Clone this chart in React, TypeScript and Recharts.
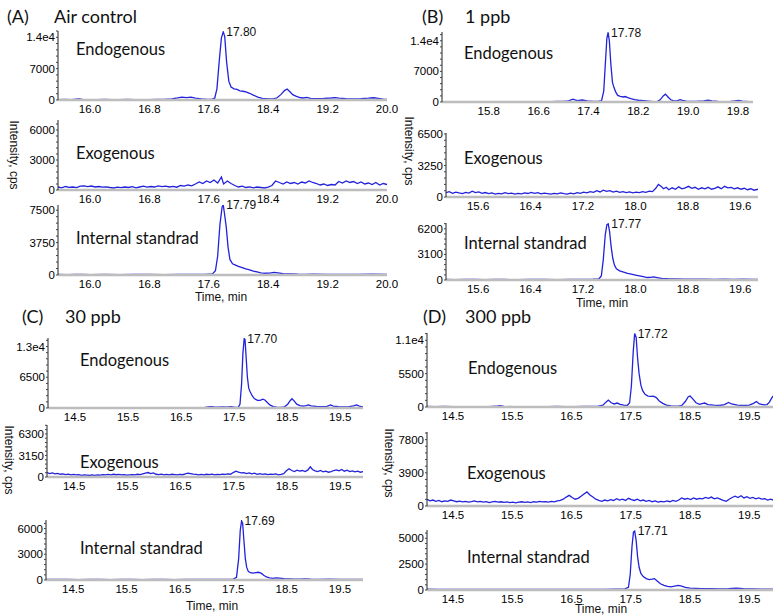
import { LineChart, Line, XAxis, YAxis, ReferenceDot } from "recharts";

type Pt = [number, number];

// time-axis ticks (min)
const ticksA = [16.0, 16.8, 17.6, 18.4, 19.2, 20.0];
const ticksB1 = [15.8, 16.6, 17.4, 18.2, 19.0, 19.8];
const ticksB = [15.6, 16.4, 17.2, 18.0, 18.8, 19.6];
const ticksCD = [14.5, 15.5, 16.5, 17.5, 18.5, 19.5];

// intensity ticks (cps)
const yTicksA1 = [0, 7000, 14000];
const yTicksA2 = [0, 3000, 6000];
const yTicksA3 = [0, 3750, 7500];
const yTicksB1 = [0, 7000, 14000];
const yTicksB2 = [0, 3250, 6500];
const yTicksB3 = [0, 3100, 6200];
const yTicksC1 = [0, 6500, 13000];
const yTicksC2 = [0, 3150, 6300];
const yTicksC3 = [0, 3000, 6000];
const yTicksD1 = [0, 5500, 11000];
const yTicksD2 = [0, 3900, 7800];
const yTicksD3 = [0, 2500, 5000];

const traceLabels = ["Endogenous", "Exogenous", "Internal standrad"];
const panelTitles = [["(A)", "Air control"], ["(B)", "1 ppb"], ["(C)", "30 ppb"], ["(D)", "300 ppb"]];
const peakLabels = { A1: "17.80", A3: "17.79", B1: "17.78", B3: "17.77", C1: "17.70", C3: "17.69", D1: "17.72", D3: "17.71" };

// (A) Air control
const endoA: Pt[] = [[15.57,80],[15.65,120],[15.75,90],[15.85,250],[15.9,150],[16.0,100],[16.1,80],[16.2,120],[16.3,90],[16.4,70],[16.5,110],[16.6,80],[16.7,100],[16.8,90],[16.9,130],[17.0,150],[17.1,220],[17.18,450],[17.24,650],[17.3,550],[17.36,620],[17.42,400],[17.5,250],[17.58,150],[17.64,120],[17.68,400],[17.71,2500],[17.74,8500],[17.77,13800],[17.795,15200],[17.815,14200],[17.84,8500],[17.87,4200],[17.9,2900],[17.94,2500],[17.98,2350],[18.02,2050],[18.06,1950],[18.1,1800],[18.15,1500],[18.2,1100],[18.26,650],[18.32,350],[18.4,220],[18.47,250],[18.52,500],[18.57,1200],[18.62,2100],[18.655,2450],[18.69,1900],[18.73,1200],[18.78,800],[18.84,500],[18.88,450],[18.92,600],[18.97,350],[19.05,300],[19.15,350],[19.25,450],[19.3,550],[19.35,400],[19.45,300],[19.55,250],[19.65,300],[19.75,400],[19.82,500],[19.88,350],[19.95,200],[20.0,150]];
const exoA: Pt[] = [[15.57,300],[15.62,220],[15.67,350],[15.72,260],[15.77,300],[15.82,240],[15.87,380],[15.92,420],[15.97,330],[16.02,400],[16.07,300],[16.12,350],[16.17,280],[16.22,320],[16.27,250],[16.32,200],[16.37,280],[16.42,230],[16.47,300],[16.52,250],[16.57,330],[16.62,210],[16.67,300],[16.72,380],[16.77,280],[16.82,350],[16.87,300],[16.92,420],[16.97,330],[17.02,390],[17.07,300],[17.12,360],[17.17,280],[17.22,450],[17.27,380],[17.32,500],[17.37,420],[17.42,600],[17.47,800],[17.52,650],[17.57,900],[17.62,750],[17.67,1000],[17.72,700],[17.77,1300],[17.8,600],[17.85,900],[17.9,650],[17.95,450],[18.0,300],[18.05,380],[18.1,250],[18.15,320],[18.2,220],[18.25,300],[18.3,250],[18.35,200],[18.4,280],[18.45,450],[18.5,900],[18.55,750],[18.6,600],[18.65,800],[18.7,650],[18.75,750],[18.8,600],[18.85,800],[18.9,700],[18.95,900],[19.0,750],[19.05,650],[19.1,500],[19.15,600],[19.2,450],[19.25,550],[19.3,500],[19.35,850],[19.4,700],[19.45,900],[19.5,750],[19.55,850],[19.6,650],[19.65,800],[19.7,600],[19.75,700],[19.8,550],[19.85,750],[19.9,500],[19.95,650],[20.0,550]];
const isA: Pt[] = [[15.57,60],[15.7,50],[15.8,70],[15.9,60],[16.0,50],[16.2,60],[16.4,50],[16.6,70],[16.8,60],[17.0,50],[17.2,60],[17.4,70],[17.55,80],[17.65,120],[17.69,500],[17.72,2200],[17.75,5800],[17.78,7900],[17.795,8100],[17.81,7200],[17.835,5600],[17.86,3200],[17.885,1800],[17.92,1300],[17.96,1150],[18.0,1000],[18.05,850],[18.1,700],[18.15,600],[18.2,450],[18.25,350],[18.3,250],[18.35,200],[18.42,220],[18.48,300],[18.53,250],[18.6,150],[18.7,120],[18.8,90],[18.9,80],[19.0,100],[19.2,70],[19.4,80],[19.6,70],[19.8,90],[20.0,60]];

// (B) 1 ppb
const endoB: Pt[] = [[15.05,60],[15.2,80],[15.35,50],[15.5,70],[15.65,60],[15.8,80],[15.95,50],[16.1,70],[16.25,60],[16.4,80],[16.55,50],[16.7,100],[16.8,80],[16.9,150],[17.0,120],[17.08,250],[17.15,650],[17.22,300],[17.3,450],[17.38,250],[17.48,150],[17.56,120],[17.61,300],[17.645,2500],[17.67,8500],[17.695,14500],[17.715,15900],[17.735,14000],[17.76,8500],[17.785,4500],[17.81,3300],[17.84,2200],[17.87,1500],[17.91,1300],[17.96,1150],[17.99,1250],[18.03,1000],[18.08,750],[18.14,550],[18.2,400],[18.28,300],[18.36,200],[18.44,100],[18.5,80],[18.55,500],[18.6,1400],[18.635,1800],[18.68,1100],[18.72,500],[18.76,300],[18.82,280],[18.87,550],[18.91,350],[18.97,200],[19.05,150],[19.15,180],[19.25,250],[19.32,420],[19.38,250],[19.48,120],[19.58,100],[19.68,150],[19.75,250],[19.81,380],[19.87,200],[19.95,120],[20.04,60]];
const exoB: Pt[] = [[15.11,450],[15.16,550],[15.21,380],[15.26,500],[15.31,420],[15.36,350],[15.41,480],[15.46,400],[15.51,600],[15.56,450],[15.61,520],[15.66,380],[15.71,460],[15.76,350],[15.81,420],[15.86,300],[15.91,380],[15.96,320],[16.01,450],[16.06,350],[16.11,400],[16.16,300],[16.21,380],[16.26,330],[16.31,420],[16.36,360],[16.41,480],[16.46,380],[16.51,450],[16.56,320],[16.61,400],[16.66,350],[16.71,300],[16.76,380],[16.81,320],[16.86,420],[16.91,350],[16.96,300],[17.01,400],[17.06,330],[17.11,450],[17.16,380],[17.21,500],[17.26,420],[17.31,550],[17.36,480],[17.41,650],[17.46,520],[17.51,700],[17.56,580],[17.61,650],[17.66,500],[17.71,600],[17.76,480],[17.81,550],[17.86,450],[17.91,520],[17.96,420],[18.01,500],[18.06,450],[18.11,550],[18.16,480],[18.21,600],[18.26,550],[18.31,900],[18.35,1300],[18.39,1100],[18.43,850],[18.47,1000],[18.51,750],[18.56,950],[18.61,800],[18.66,1050],[18.71,850],[18.76,950],[18.81,1100],[18.86,900],[18.91,1000],[18.96,800],[19.01,950],[19.06,850],[19.11,1000],[19.16,800],[19.21,900],[19.26,1050],[19.31,850],[19.36,1100],[19.41,950],[19.46,1000],[19.51,850],[19.56,950],[19.61,800],[19.66,900],[19.71,750],[19.76,850],[19.81,700],[19.87,800]];
const isB: Pt[] = [[15.11,60],[15.25,50],[15.4,80],[15.55,60],[15.7,50],[15.85,70],[16.0,60],[16.2,50],[16.4,70],[16.6,60],[16.8,50],[17.0,70],[17.2,80],[17.35,90],[17.44,120],[17.48,500],[17.51,2500],[17.54,5500],[17.565,6700],[17.585,6800],[17.605,5900],[17.63,4000],[17.655,2600],[17.68,1800],[17.71,1350],[17.76,1100],[17.82,950],[17.88,800],[17.94,700],[18.0,600],[18.06,500],[18.12,400],[18.18,300],[18.23,320],[18.28,380],[18.33,300],[18.4,200],[18.5,150],[18.6,120],[18.75,100],[18.9,90],[19.05,110],[19.2,80],[19.35,100],[19.5,80],[19.65,90],[19.8,70],[19.87,60]];

// (C) 30 ppb
const endoC: Pt[] = [[13.99,60],[14.15,40],[14.3,60],[14.45,50],[14.6,40],[14.75,60],[14.9,50],[15.05,40],[15.2,60],[15.35,50],[15.5,70],[15.65,50],[15.8,60],[15.95,40],[16.1,60],[16.25,50],[16.4,70],[16.55,60],[16.7,80],[16.85,100],[16.95,150],[17.05,280],[17.12,220],[17.2,180],[17.28,250],[17.36,200],[17.44,260],[17.52,150],[17.58,200],[17.61,800],[17.64,5000],[17.665,11500],[17.69,14700],[17.705,14500],[17.725,11000],[17.75,6500],[17.775,4200],[17.8,3500],[17.84,2600],[17.88,2000],[17.94,1600],[17.99,1600],[18.04,1850],[18.08,1700],[18.13,1100],[18.18,600],[18.24,300],[18.3,200],[18.38,150],[18.45,250],[18.51,800],[18.56,1600],[18.59,1950],[18.63,1500],[18.68,800],[18.74,500],[18.8,400],[18.86,500],[18.9,650],[18.95,450],[19.05,350],[19.15,300],[19.25,350],[19.32,650],[19.37,400],[19.47,300],[19.57,250],[19.67,300],[19.75,450],[19.81,650],[19.86,400],[19.93,250]];
const exoC: Pt[] = [[13.99,650],[14.04,500],[14.09,600],[14.14,450],[14.19,520],[14.24,400],[14.29,450],[14.34,350],[14.39,420],[14.44,320],[14.49,380],[14.54,300],[14.59,350],[14.64,250],[14.69,320],[14.74,280],[14.79,220],[14.84,300],[14.89,250],[14.94,320],[14.99,280],[15.04,350],[15.09,300],[15.14,380],[15.19,320],[15.24,400],[15.29,330],[15.34,380],[15.39,300],[15.44,350],[15.49,280],[15.54,320],[15.59,350],[15.64,300],[15.69,400],[15.74,350],[15.79,450],[15.84,550],[15.89,650],[15.94,500],[15.99,600],[16.04,400],[16.09,350],[16.14,420],[16.19,300],[16.24,380],[16.29,320],[16.34,400],[16.39,350],[16.44,300],[16.49,380],[16.54,330],[16.59,450],[16.64,550],[16.69,500],[16.74,420],[16.79,380],[16.84,300],[16.89,380],[16.94,320],[16.99,400],[17.04,350],[17.09,420],[17.14,300],[17.19,380],[17.24,350],[17.29,420],[17.34,380],[17.39,450],[17.44,400],[17.49,650],[17.54,850],[17.59,700],[17.64,600],[17.69,650],[17.74,500],[17.79,600],[17.84,450],[17.89,550],[17.94,400],[17.99,480],[18.04,380],[18.09,450],[18.14,350],[18.19,420],[18.24,380],[18.29,450],[18.34,320],[18.39,400],[18.44,500],[18.49,900],[18.54,1200],[18.59,950],[18.64,800],[18.69,1000],[18.74,850],[18.79,950],[18.84,800],[18.89,1000],[18.94,1500],[18.98,1100],[19.03,900],[19.08,800],[19.13,950],[19.18,750],[19.23,850],[19.28,700],[19.33,800],[19.38,950],[19.43,1050],[19.48,900],[19.53,1100],[19.58,850],[19.63,1000],[19.68,800],[19.73,900],[19.78,750],[19.83,850],[19.88,700],[19.93,800]];
const isC: Pt[] = [[13.99,80],[14.2,60],[14.4,70],[14.6,50],[14.8,70],[15.0,60],[15.2,50],[15.4,70],[15.6,60],[15.8,50],[16.0,70],[16.2,60],[16.4,50],[16.6,70],[16.8,60],[17.0,70],[17.2,60],[17.4,80],[17.5,100],[17.56,300],[17.6,2500],[17.63,5800],[17.655,6900],[17.675,6600],[17.7,4500],[17.725,2500],[17.75,1500],[17.78,1000],[17.82,850],[17.87,800],[17.92,850],[17.97,900],[18.02,800],[18.07,550],[18.12,350],[18.18,250],[18.24,200],[18.3,250],[18.36,220],[18.45,150],[18.55,120],[18.65,100],[18.75,90],[18.85,120],[18.95,90],[19.1,80],[19.3,90],[19.5,70],[19.7,80],[19.93,60]];

// (D) 300 ppb
const endoD: Pt[] = [[14.06,80],[14.2,60],[14.35,80],[14.5,60],[14.65,70],[14.8,50],[14.95,70],[15.1,60],[15.22,120],[15.29,220],[15.36,100],[15.5,60],[15.65,70],[15.8,50],[15.95,70],[16.1,60],[16.25,80],[16.4,60],[16.55,70],[16.7,80],[16.85,100],[16.95,150],[17.03,300],[17.08,800],[17.12,1150],[17.17,700],[17.22,500],[17.27,650],[17.32,450],[17.38,300],[17.44,250],[17.48,700],[17.51,3500],[17.54,9000],[17.565,12100],[17.59,11500],[17.615,8000],[17.64,5500],[17.67,3600],[17.7,2700],[17.74,2100],[17.79,1800],[17.84,1750],[17.88,1800],[17.93,1550],[17.98,1000],[18.04,600],[18.1,300],[18.18,200],[18.28,120],[18.36,250],[18.42,900],[18.47,1700],[18.5,1800],[18.55,1300],[18.6,700],[18.66,450],[18.7,550],[18.75,650],[18.8,400],[18.9,300],[19.0,250],[19.08,400],[19.15,750],[19.2,500],[19.3,300],[19.4,250],[19.5,300],[19.57,600],[19.62,900],[19.67,500],[19.75,350],[19.8,400],[19.84,800],[19.88,1500],[19.9,1800]];
const exoD: Pt[] = [[14.06,800],[14.11,600],[14.16,700],[14.21,550],[14.26,650],[14.31,500],[14.36,600],[14.41,550],[14.46,700],[14.51,600],[14.56,500],[14.61,580],[14.66,480],[14.71,550],[14.76,450],[14.81,520],[14.86,600],[14.91,480],[14.96,550],[15.01,450],[15.06,520],[15.11,400],[15.16,480],[15.21,550],[15.26,450],[15.31,500],[15.36,420],[15.41,480],[15.46,400],[15.51,450],[15.56,380],[15.61,450],[15.66,500],[15.71,420],[15.76,480],[15.81,400],[15.86,500],[15.91,450],[15.96,550],[16.01,480],[16.06,520],[16.11,450],[16.16,550],[16.21,480],[16.26,600],[16.31,650],[16.36,800],[16.41,1050],[16.46,1250],[16.51,1000],[16.56,800],[16.61,900],[16.66,1150],[16.71,1400],[16.76,1650],[16.81,1300],[16.86,1050],[16.91,800],[16.96,650],[17.01,550],[17.06,700],[17.11,600],[17.16,750],[17.21,650],[17.26,850],[17.31,700],[17.36,800],[17.41,650],[17.46,900],[17.51,750],[17.56,650],[17.61,800],[17.66,600],[17.71,700],[17.76,550],[17.81,650],[17.86,500],[17.91,600],[17.96,450],[18.01,550],[18.06,480],[18.11,600],[18.16,500],[18.21,650],[18.26,550],[18.31,700],[18.36,950],[18.41,800],[18.46,900],[18.51,750],[18.56,950],[18.61,800],[18.66,900],[18.71,850],[18.76,1000],[18.81,900],[18.86,1050],[18.91,850],[18.96,950],[19.01,800],[19.06,650],[19.11,550],[19.16,800],[19.21,1000],[19.26,1150],[19.31,1000],[19.36,1200],[19.41,950],[19.46,1100],[19.51,900],[19.56,1000],[19.61,850],[19.66,950],[19.71,800],[19.76,850],[19.81,700],[19.86,800],[19.9,700]];
const isD: Pt[] = [[14.06,80],[14.25,60],[14.45,70],[14.65,50],[14.85,70],[15.05,60],[15.25,50],[15.45,70],[15.65,60],[15.85,50],[16.05,70],[16.25,60],[16.45,50],[16.65,70],[16.85,60],[17.05,70],[17.25,80],[17.4,100],[17.46,250],[17.49,1500],[17.52,4200],[17.545,5600],[17.565,5700],[17.59,4800],[17.615,3200],[17.64,2200],[17.67,1600],[17.71,1300],[17.76,1100],[17.81,1000],[17.86,1050],[17.9,1100],[17.95,850],[18.0,600],[18.06,450],[18.12,350],[18.18,300],[18.24,380],[18.3,450],[18.36,380],[18.42,250],[18.5,180],[18.6,150],[18.7,130],[18.85,120],[19.0,100],[19.15,130],[19.28,180],[19.4,120],[19.55,100],[19.7,90],[19.9,80]];

const BLUE = "#2222dc";
const TICK_FONT = { fontSize: 11.5, fill: "#000", fontFamily: "Liberation Sans, Arial, sans-serif" };

interface Box { x0: number; x1: number; top: number; bottom: number }
interface SubProps {
  data: Pt[];
  box: Box;
  tDomain: [number, number];
  xTicks: number[];
  yMax: number;
  yTicks: number[];
  peakText?: string;
}

const fmtY = (v: number) => (v >= 10000 ? `${(v / 10000).toFixed(1)}e4` : String(v));

function Sub({ data, box, tDomain, xTicks, yMax, yTicks, peakText }: SubProps) {
  const YW = 44, MT = 8, MR = 18, XH = 24;
  const rows = data.map(([t, v]) => ({ t, v }));
  const w = box.x1 - box.x0 + YW + MR;
  const h = box.bottom - box.top + MT + XH;
  // minor tick marks along the intensity axis
  const step = yTicks[1] / 5;
  const minor: number[] = [];
  for (let v = 0; v <= yMax; v += step) minor.push(Math.round(v));
  const allTicks = Array.from(new Set([...minor, ...yTicks])).sort((a, b) => a - b);
  const peak = data.reduce((m, p) => (p[1] > m[1] ? p : m), data[0]);
  return (
    <div style={{ position: "absolute", left: box.x0 - YW, top: box.top - MT }}>
      <LineChart width={w} height={h} data={rows} margin={{ top: MT, right: MR, left: 0, bottom: 0 }}>
        <XAxis
          dataKey="t"
          type="number"
          domain={tDomain}
          ticks={xTicks}
          interval={0}
          allowDataOverflow
          height={XH}
          tickLine={false}
          tickSize={3}
          axisLine={{ stroke: "#bdbdbd", strokeWidth: 2.5 }}
          tick={TICK_FONT}
          tickFormatter={(v: number) => v.toFixed(1)}
        />
        <YAxis
          type="number"
          domain={[0, yMax]}
          ticks={allTicks}
          interval={0}
          allowDataOverflow
          width={YW}
          axisLine={{ stroke: "#222" }}
          tickLine={{ stroke: "#444" }}
          tickSize={2}
          tickMargin={1}
          tick={TICK_FONT}
          tickFormatter={(v: number) => (yTicks.includes(v) ? fmtY(v) : "")}
        />
        <Line dataKey="v" type="linear" stroke={BLUE} strokeWidth={1.3} dot={false} isAnimationActive={false} />
        {peakText && (
          <ReferenceDot
            x={peak[0]}
            y={peak[1]}
            r={0}
            label={{ value: peakText, position: "right", offset: 3, fontSize: 12, fill: "#111", fontFamily: "Liberation Sans, Arial, sans-serif" }}
          />
        )}
      </LineChart>
    </div>
  );
}

// plot-area positions in page pixels
const layout: Record<string, { box: Box; tDomain: [number, number] }> = {
  A1: { box: { x0: 58, x1: 387, top: 31, bottom: 100 }, tDomain: [15.57, 20.0] },
  A2: { box: { x0: 58, x1: 387, top: 120, bottom: 190 }, tDomain: [15.57, 20.0] },
  A3: { box: { x0: 58, x1: 387, top: 205, bottom: 275 }, tDomain: [15.57, 20.0] },
  B1: { box: { x0: 442, x1: 753, top: 32, bottom: 102 }, tDomain: [15.05, 20.04] },
  B2: { box: { x0: 446, x1: 758, top: 133, bottom: 197 }, tDomain: [15.11, 19.87] },
  B3: { box: { x0: 446, x1: 758, top: 223, bottom: 280 }, tDomain: [15.11, 19.87] },
  C1: { box: { x0: 48, x1: 363, top: 338, bottom: 408 }, tDomain: [13.99, 19.93] },
  C2: { box: { x0: 47, x1: 363, top: 425, bottom: 477 }, tDomain: [13.99, 19.93] },
  C3: { box: { x0: 46, x1: 363, top: 520, bottom: 580 }, tDomain: [13.99, 19.93] },
  D1: { box: { x0: 427, x1: 773, top: 333, bottom: 407 }, tDomain: [14.06, 19.9] },
  D2: { box: { x0: 427, x1: 773, top: 432, bottom: 506 }, tDomain: [14.06, 19.9] },
  D3: { box: { x0: 427, x1: 773, top: 530, bottom: 590 }, tDomain: [14.06, 19.9] },
};

const subs = [
  { id: "A1", data: endoA, xTicks: ticksA, yMax: 15400, yTicks: yTicksA1, peakText: peakLabels.A1 },
  { id: "A2", data: exoA, xTicks: ticksA, yMax: 7000, yTicks: yTicksA2 },
  { id: "A3", data: isA, xTicks: ticksA, yMax: 8100, yTicks: yTicksA3, peakText: peakLabels.A3 },
  { id: "B1", data: endoB, xTicks: ticksB1, yMax: 16000, yTicks: yTicksB1, peakText: peakLabels.B1 },
  { id: "B2", data: exoB, xTicks: ticksB, yMax: 6600, yTicks: yTicksB2 },
  { id: "B3", data: isB, xTicks: ticksB, yMax: 6900, yTicks: yTicksB3, peakText: peakLabels.B3 },
  { id: "C1", data: endoC, xTicks: ticksCD, yMax: 14800, yTicks: yTicksC1, peakText: peakLabels.C1 },
  { id: "C2", data: exoC, xTicks: ticksCD, yMax: 7600, yTicks: yTicksC2 },
  { id: "C3", data: isC, xTicks: ticksCD, yMax: 7000, yTicks: yTicksC3, peakText: peakLabels.C3 },
  { id: "D1", data: endoD, xTicks: ticksCD, yMax: 12200, yTicks: yTicksD1, peakText: peakLabels.D1 },
  { id: "D2", data: exoD, xTicks: ticksCD, yMax: 8700, yTicks: yTicksD2 },
  { id: "D3", data: isD, xTicks: ticksCD, yMax: 5800, yTicks: yTicksD3, peakText: peakLabels.D3 },
];

// text placement: [left, centerY]
const titlePos = [[7, 16, 54], [422, 16, 465], [22, 316, 65], [423, 316, 465]];
const tracePos = [
  [[76, 49], [76, 153], [76, 238]],
  [[464, 53], [464, 158], [464, 243]],
  [[80, 360], [80, 462], [80, 548]],
  [[468, 368], [467, 473], [467, 557]],
];
const yTitlePos = [[14, 155], [409, 151], [9, 460], [389, 463]];
const timePos = [[221, 297], [602, 303], [212, 606], [601, 609]];

const LABEL_FONT = "Lato, 'Open Sans', sans-serif";

export default function App() {
  return (
    <div style={{ position: "absolute", left: 0, top: 0, width: 780, height: 615, background: "#fff", overflow: "hidden" }}>
      {subs.map((s) => (
        <Sub key={s.id} data={s.data} box={layout[s.id].box} tDomain={layout[s.id].tDomain} xTicks={s.xTicks} yMax={s.yMax} yTicks={s.yTicks} peakText={s.peakText} />
      ))}
      {panelTitles.map(([tag, name], i) => (
        <div key={tag}>
          <div style={{ position: "absolute", left: titlePos[i][0], top: titlePos[i][1] - 12, lineHeight: "24px", fontSize: 18, fontFamily: LABEL_FONT, color: "#111" }}>{tag}</div>
          <div style={{ position: "absolute", left: titlePos[i][2], top: titlePos[i][1] - 12, lineHeight: "24px", fontSize: 18, fontFamily: LABEL_FONT, color: "#111" }}>{name}</div>
        </div>
      ))}
      {tracePos.map((rows, i) =>
        rows.map(([x, y], j) => (
          <div key={`${i}-${j}`} style={{ position: "absolute", left: x, top: y - 11, lineHeight: "22px", fontSize: 16.5, fontFamily: LABEL_FONT, color: "#111", whiteSpace: "nowrap" }}>
            {traceLabels[j]}
          </div>
        ))
      )}
      {yTitlePos.map(([x, y], i) => (
        <div key={`yt${i}`} style={{ position: "absolute", left: x, top: y, width: 0, height: 0 }}>
          <div style={{ position: "absolute", left: 0, top: 0, transform: "translate(-50%, -50%) rotate(90deg)", fontSize: 12, fontFamily: "Liberation Sans, Arial, sans-serif", color: "#111", whiteSpace: "nowrap" }}>
            Intensity, cps
          </div>
        </div>
      ))}
      {timePos.map(([x, y], i) => (
        <div key={`tm${i}`} style={{ position: "absolute", left: x, top: y, width: 0, height: 0 }}>
          <div style={{ position: "absolute", left: 0, top: 0, transform: "translate(-50%, -50%)", fontSize: 12, fontFamily: "Liberation Sans, Arial, sans-serif", color: "#111", whiteSpace: "nowrap" }}>
            Time, min
          </div>
        </div>
      ))}
    </div>
  );
}
